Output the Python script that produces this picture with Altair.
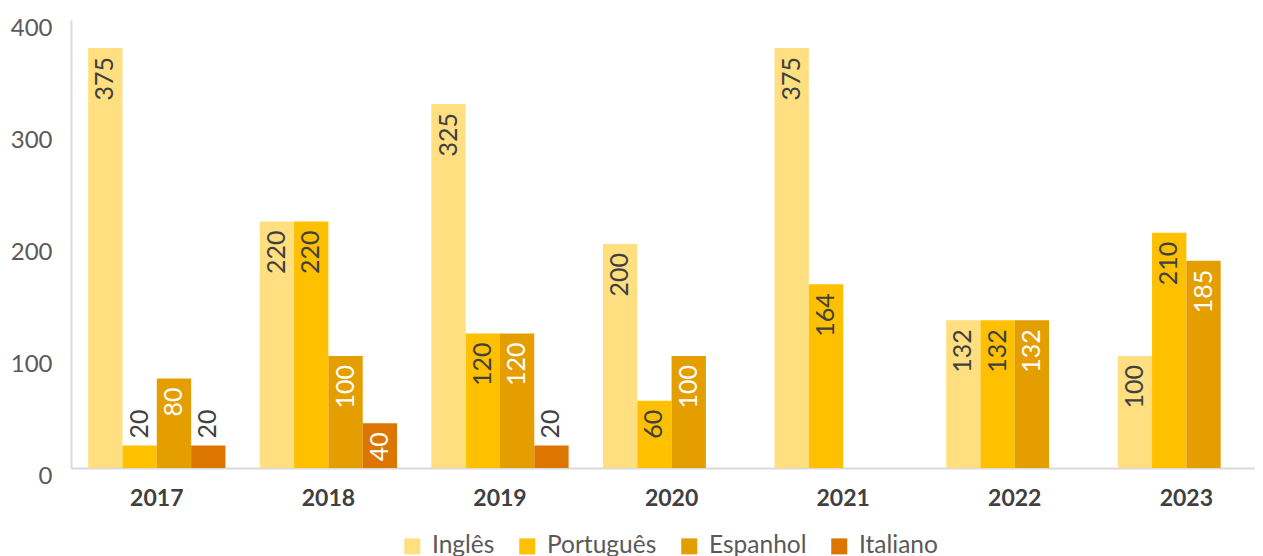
import altair as alt
import pandas as pd

years = ["2017", "2018", "2019", "2020", "2021", "2022", "2023"]
series = ["Inglês", "Português", "Espanhol", "Italiano"]
ingles = [375, 220, 325, 200, 375, 132, 100]
portugues = [20, 220, 120, 60, 164, 132, 210]
espanhol = [80, 100, 120, 100, None, 132, 185]
italiano = [20, 40, 20, None, None, None, None]
colors = ["#FFDF80", "#FFC000", "#E59E00", "#DC7600"]

rows = []
for name, vals in zip(series, [ingles, portugues, espanhol, italiano]):
    for y, v in zip(years, vals):
        if v is not None:
            rows.append({"ano": y, "idioma": name, "valor": v})
df = pd.DataFrame(rows)

FONT = "Lato"

base = alt.Chart(df).encode(
    x=alt.X(
        "ano:N",
        sort=years,
        scale=alt.Scale(paddingInner=0.2, paddingOuter=0.05, align=1),
        axis=alt.Axis(
            title=None, labelAngle=0, labelFont=FONT, labelFontWeight="bold",
            labelFontSize=23, labelColor="#404040", ticks=False,
            domainColor="#D9D9D9", domainWidth=2, labelPadding=19,
        ),
    ),
    xOffset=alt.XOffset(
        "idioma:N", sort=series,
        scale=alt.Scale(domain=series, paddingInner=0, paddingOuter=0),
    ),
    y=alt.Y(
        "valor:Q",
        scale=alt.Scale(domain=[0, 400], nice=False),
        axis=alt.Axis(
            title=None, values=[0, 100, 200, 300, 400], grid=False, ticks=False,
            domainColor="#D9D9D9", domainWidth=2, labelFont=FONT, labelFontSize=24,
            labelColor="#595959", labelPadding=19, labelOffset=8,
            labelFlush=False, labelOverlap=False,
        ),
    ),
)

bars = base.mark_bar().encode(
    color=alt.Color(
        "idioma:N", sort=series,
        scale=alt.Scale(domain=series, range=colors),
        legend=alt.Legend(
            title=None, orient="none", legendX=329, legendY=514,
            direction="horizontal", symbolType="square", symbolSize=256,
            symbolStrokeWidth=0, labelFont=FONT, labelFontSize=24.5,
            labelColor="#595959", columnPadding=20, labelOffset=7.5, padding=0,
        ),
    )
)

inside = base.transform_filter("datum.valor >= 30").mark_text(
    angle=270, align="right", baseline="middle", dx=-9, font=FONT, fontSize=25
).encode(
    text="valor:Q",
    color=alt.condition(
        "datum.idioma == 'Espanhol' || datum.idioma == 'Italiano'",
        alt.value("#FFFFFF"), alt.value("#404040"),
    ),
)

outside = base.transform_filter("datum.valor < 30").mark_text(
    angle=270, align="left", baseline="middle", dx=7, font=FONT, fontSize=25,
    color="#404040",
).encode(text="valor:Q")

chart = alt.layer(bars, inside, outside).properties(
    width=1184, height=448,
    autosize=alt.AutoSizeParams(type="none"),
    padding={"left": 63, "top": 12, "right": 0, "bottom": 90},
    background="white",
).configure_view(stroke=None)

chart.save("out.html", embed_options={"renderer": "svg", "actions": False})
